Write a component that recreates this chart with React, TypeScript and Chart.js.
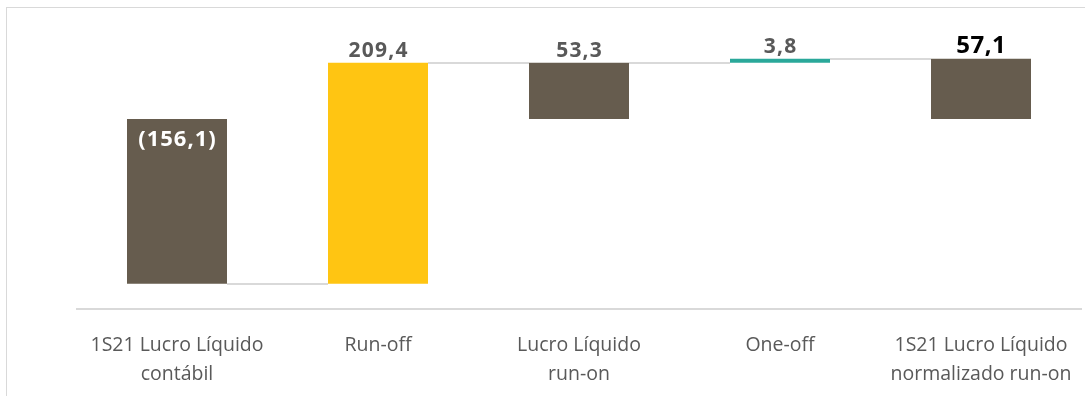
import React, { useEffect, useRef } from "react";
import { Chart, registerables } from "chart.js";

Chart.register(...registerables);

// ---- Data ----
const categories: string[][] = [
  ["1S21 Lucro Líquido", "contábil"],
  ["Run-off"],
  ["Lucro Líquido", "run-on"],
  ["One-off"],
  ["1S21 Lucro Líquido", "normalizado run-on"],
];
const values: number[] = [-156.1, 209.4, 53.3, 3.8, 57.1];
const kinds: string[] = ["total", "delta", "total", "delta", "total"];
const yMin = -180;
const yMax = 100;

// ---- Styles ----
const barColors = ["#665C4E", "#FFC512", "#665C4E", "#2AA89A", "#665C4E"];
const labelColors = ["#FFFFFF", "#595959", "#595959", "#595959", "#000000"];
const labelSizes = [22, 21, 21, 21, 24];
const labelSpacing = [1, 1.2, 1.2, 1.2, 0.5];
const FONT = "'Open Sans', 'Noto Sans', sans-serif";

// Build floating bar ranges for the waterfall
const ranges: [number, number][] = [];
{
  let running = 0;
  values.forEach((v, i) => {
    if (kinds[i] === "total") {
      ranges.push([0, v]);
      running = v;
    } else {
      ranges.push([running, running + v]);
      running += v;
    }
  });
}

const fmt = (v: number) => {
  const s = Math.abs(v).toFixed(1).replace(".", ",");
  return v < 0 ? `(${s})` : s;
};

const waterfallPlugin = {
  id: "waterfallExtras",
  beforeDatasetsDraw(chart: any) {
    const ctx = chart.ctx;
    const meta = chart.getDatasetMeta(0);
    const y = chart.scales.y;
    ctx.save();
    ctx.strokeStyle = "#D9D9D9";
    ctx.lineWidth = 2;
    for (let i = 0; i < meta.data.length - 1; i++) {
      const a = meta.data[i];
      const b = meta.data[i + 1];
      const py = Math.round(y.getPixelForValue(ranges[i][1]));
      ctx.beginPath();
      ctx.moveTo(a.x + a.width / 2, py);
      ctx.lineTo(b.x - b.width / 2, py);
      ctx.stroke();
    }
    ctx.restore();
  },
  afterDatasetsDraw(chart: any) {
    const ctx = chart.ctx;
    const meta = chart.getDatasetMeta(0);
    const y = chart.scales.y;
    ctx.save();
    ctx.textAlign = "center";
    ctx.textBaseline = "alphabetic";
    meta.data.forEach((el: any, i: number) => {
      const [s, e] = ranges[i];
      const topPx = y.getPixelForValue(Math.max(s, e));
      const size = labelSizes[i];
      ctx.font = `bold ${size}px ${FONT}`;
      (ctx as any).letterSpacing = `${labelSpacing[i]}px`;
      ctx.fillStyle = labelColors[i];
      const text = fmt(values[i]);
      const by = values[i] < 0 ? topPx + size + 5 : topPx - 6;
      ctx.fillText(text, el.x + labelSpacing[i] / 2, by);
    });
    ctx.restore();
  },
};

export default function App() {
  const canvasRef = useRef<HTMLCanvasElement | null>(null);

  useEffect(() => {
    if (!canvasRef.current) return;
    const chart = new Chart(canvasRef.current, {
      type: "bar",
      data: {
        labels: categories,
        datasets: [
          {
            data: ranges as any,
            backgroundColor: barColors,
            borderWidth: 0,
            categoryPercentage: 0.5,
            barPercentage: 0.995,
          },
        ],
      },
      options: {
        animation: false,
        responsive: false,
        devicePixelRatio: 1,
        layout: { padding: { left: 76.5, right: 3.5, top: 13.4, bottom: 0 } },
        plugins: {
          legend: { display: false },
          tooltip: { enabled: false },
        },
        scales: {
          x: {
            grid: { display: false, drawTicks: false },
            border: { display: true, color: "#D9D9D9", width: 2 },
            ticks: {
              color: "#595959",
              font: { family: FONT, size: 19.5, lineHeight: 1.5 },
              padding: 22,
              maxRotation: 0,
              autoSkip: false,
            },
            afterFit: (s: any) => {
              s.height = 87;
              s.paddingLeft = 0;
              s.paddingRight = 0;
            },
          },
          y: { display: false, min: yMin, max: yMax },
        },
      },
      plugins: [waterfallPlugin],
    } as any);
    return () => chart.destroy();
  }, []);

  return (
    <div
      style={{
        position: "fixed",
        left: 0,
        top: 0,
        width: 1085,
        height: 396,
        background: "#FFFFFF",
        overflow: "hidden",
      }}
    >
      <div
        style={{
          position: "absolute",
          left: 6,
          top: 7,
          right: 0,
          bottom: 0,
          borderTop: "1px solid #D9D9D9",
          borderLeft: "1px solid #D9D9D9",
        }}
      />
      <canvas
        ref={canvasRef}
        width={1085}
        height={396}
        style={{ position: "absolute", left: 0, top: 0, width: 1085, height: 396 }}
      />
    </div>
  );
}
